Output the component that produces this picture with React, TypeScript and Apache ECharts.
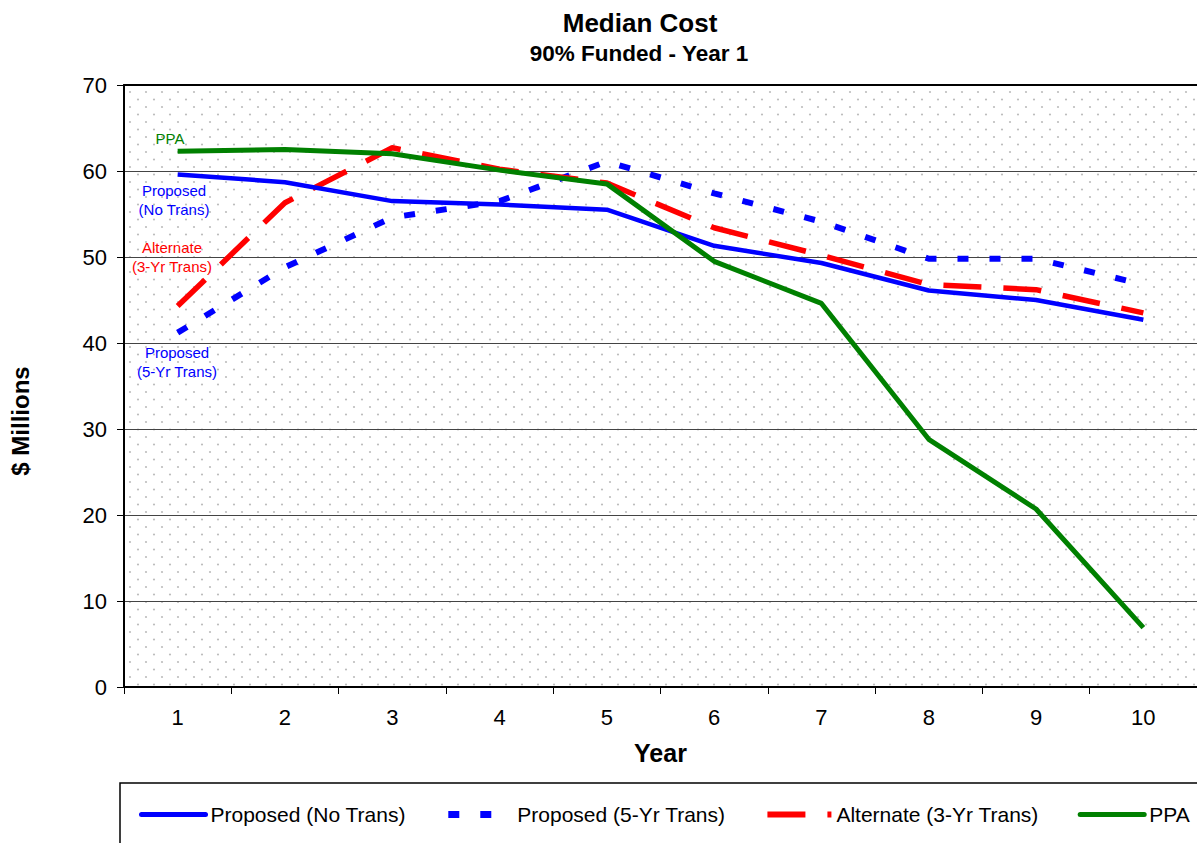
import React, { useEffect, useRef } from "react";
import * as echarts from "echarts";

const years = ["1", "2", "3", "4", "5", "6", "7", "8", "9", "10"];
const proposedNoTrans = [59.6, 58.7, 56.5, 56.1, 55.5, 51.3, 49.3, 46.1, 45.0, 42.7];
const proposed5Yr = [41.2, 48.8, 54.6, 56.5, 61.1, 57.4, 54.1, 49.8, 49.8, 46.8];
const alternate3Yr = [44.3, 56.3, 62.7, 60.2, 58.6, 53.4, 50.2, 46.8, 46.2, 43.5];
const ppa = [62.3, 62.5, 62.0, 60.1, 58.5, 49.5, 44.6, 28.8, 20.7, 6.9];
const seriesNames = ["Proposed (No Trans)", "Proposed (5-Yr Trans)", "Alternate (3-Yr Trans)", "PPA"];

function makeDots(): string {
  const c = document.createElement("canvas");
  c.width = 16;
  c.height = 15;
  const ctx = c.getContext("2d")!;
  ctx.fillStyle = "#ffffff";
  ctx.fillRect(0, 0, 16, 15);
  ctx.fillStyle = "#bdbdbd";
  ctx.beginPath();
  ctx.arc(2, 2, 1.1, 0, Math.PI * 2);
  ctx.fill();
  ctx.beginPath();
  ctx.arc(10, 9.5, 1.1, 0, Math.PI * 2);
  ctx.fill();
  return c.toDataURL();
}

export default function App() {
  const ref = useRef<HTMLDivElement>(null);
  useEffect(() => {
    document.body.style.margin = "0";
    const chart = echarts.init(ref.current!, null, { renderer: "svg" });
    const font = "Liberation Sans, Arial, sans-serif";
    const dots = makeDots();
    chart.setOption({
      animation: false,
      textStyle: { fontFamily: font },
      title: [
        {
          text: "Median Cost",
          left: 635,
          top: 5,
          textAlign: "center",
          textStyle: { fontSize: 26, fontWeight: "bold", color: "#000", fontFamily: font },
        },
        {
          text: "90% Funded - Year 1",
          left: 634,
          top: 37,
          textAlign: "center",
          textStyle: { fontSize: 22.5, fontWeight: "bold", color: "#000", fontFamily: font },
        },
      ],
      grid: {
        left: 124,
        top: 85,
        right: 0,
        bottom: 156,
        show: true,
        borderWidth: 0,
        backgroundColor: { image: dots, repeat: "repeat" },
      },
      legend: {
        left: 139,
        top: 804,
        width: 1058,
        padding: 0,
        itemWidth: 64,
        itemHeight: 8,
        itemGap: 39,
        itemStyle: { opacity: 0 },
        data: [
          { name: seriesNames[0], lineStyle: { width: 5, cap: "round" } },
          { name: seriesNames[1], lineStyle: { width: 7, type: [11, 21] } },
          { name: seriesNames[2], lineStyle: { width: 6, type: [38, 22] } },
          { name: seriesNames[3], lineStyle: { width: 5, cap: "round" } },
        ],
        textStyle: { fontSize: 21, color: "#000", fontFamily: font },
      },
      xAxis: [
        {
          type: "category",
          data: years,
          boundaryGap: true,
          axisLine: { show: true, lineStyle: { color: "#000", width: 2 } },
          axisTick: { show: true, length: 7, lineStyle: { color: "#000", width: 1 } },
          axisLabel: { fontSize: 22, color: "#000", margin: 19, fontFamily: font },
          name: "Year",
          nameLocation: "middle",
          nameGap: 53,
          nameTextStyle: { fontSize: 25, fontWeight: "bold", color: "#000", fontFamily: font },
          splitLine: { show: false },
        },
        {
          type: "category",
          data: years,
          position: "top",
          axisLine: { show: true, lineStyle: { color: "#000", width: 2 } },
          axisTick: { show: false },
          axisLabel: { show: false },
          splitLine: { show: false },
        },
      ],
      yAxis: {
        type: "value",
        min: 0,
        max: 70,
        interval: 10,
        axisLine: { show: true, lineStyle: { color: "#000", width: 2 } },
        axisTick: { show: true, length: 7, lineStyle: { color: "#000", width: 1 } },
        axisLabel: { fontSize: 22, color: "#000", margin: 17, fontFamily: font },
        splitLine: { show: true, lineStyle: { color: "#444", width: 1 } },
      },
      graphic: [
        {
          type: "rect",
          shape: { x: 120, y: 783, width: 1100, height: 80 },
          style: { fill: "none", stroke: "#000", lineWidth: 1.5 },
          z: 1,
        },
        {
          type: "text",
          x: 20,
          y: 421,
          rotation: Math.PI / 2,
          style: { text: "$ Millions", fill: "#000", font: `bold 24px ${font}`, align: "center", verticalAlign: "middle" },
          z: 10,
        },
        {
          type: "text",
          x: 170,
          y: 138,
          style: { text: "PPA", fill: "#008000", font: `15px ${font}`, align: "center", verticalAlign: "middle" },
          z: 10,
        },
        {
          type: "text",
          x: 174,
          y: 200,
          style: { text: "Proposed\n(No Trans)", fill: "#0000ff", font: `15px ${font}`, align: "center", verticalAlign: "middle", lineHeight: 19 },
          z: 10,
        },
        {
          type: "text",
          x: 172,
          y: 257,
          style: { text: "Alternate\n(3-Yr Trans)", fill: "#ff0000", font: `15px ${font}`, align: "center", verticalAlign: "middle", lineHeight: 19 },
          z: 10,
        },
        {
          type: "text",
          x: 177,
          y: 362,
          style: { text: "Proposed\n(5-Yr Trans)", fill: "#0000ff", font: `15px ${font}`, align: "center", verticalAlign: "middle", lineHeight: 19 },
          z: 10,
        },
      ],
      series: [
        {
          name: seriesNames[0],
          type: "line",
          data: proposedNoTrans,
          symbol: "none",
          lineStyle: { color: "#0000ff", width: 4.5 },
          itemStyle: { color: "#0000ff" },
          z: 4,
        },
        {
          name: seriesNames[1],
          type: "line",
          data: proposed5Yr,
          symbol: "none",
          lineStyle: { color: "#0000ff", width: 6, type: [11, 21] },
          itemStyle: { color: "#0000ff" },
          z: 3,
        },
        {
          name: seriesNames[2],
          type: "line",
          data: alternate3Yr,
          symbol: "none",
          lineStyle: { color: "#ff0000", width: 5.5, type: [38, 22] },
          itemStyle: { color: "#ff0000" },
          z: 3,
        },
        {
          name: seriesNames[3],
          type: "line",
          data: ppa,
          symbol: "none",
          lineStyle: { color: "#008000", width: 5 },
          itemStyle: { color: "#008000" },
          z: 5,
        },
      ],
    });
    return () => chart.dispose();
  }, []);
  return <div ref={ref} style={{ width: 1197, height: 843 }} />;
}
